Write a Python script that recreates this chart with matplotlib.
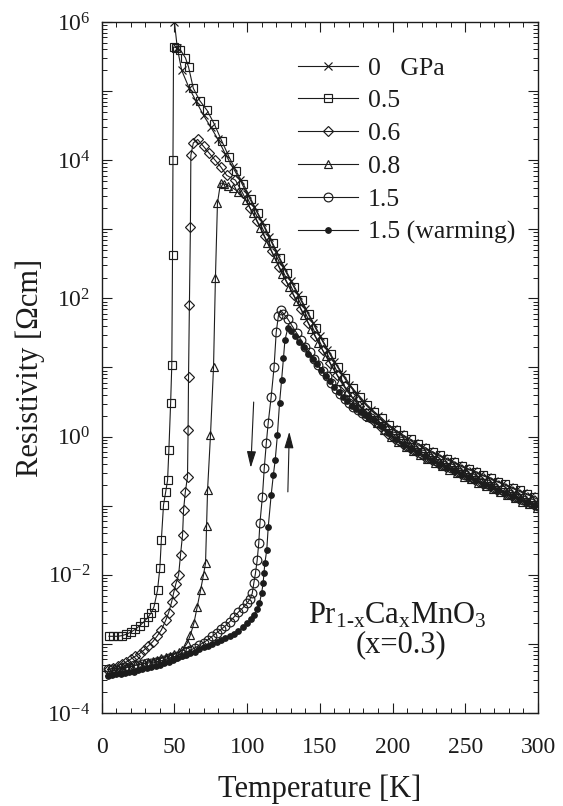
import numpy as np
import matplotlib
matplotlib.use("Agg")
import matplotlib.pyplot as plt
from matplotlib.ticker import LogLocator, MultipleLocator, FuncFormatter, NullFormatter

plt.rcParams['font.family'] = ['Liberation Serif', 'DejaVu Serif']
plt.rcParams['mathtext.fontset'] = 'custom'
plt.rcParams['mathtext.rm'] = 'Liberation Serif'
plt.rcParams['mathtext.it'] = 'Liberation Serif:italic'
plt.rcParams['mathtext.bf'] = 'Liberation Serif:bold'

ink = '#1c1c1c'

# resistivity curves, log10(rho / Ohm cm) vs temperature in K
t_00 = [48.8, 50, 52, 55, 60, 65, 70, 75, 80, 85, 90, 95, 100, 105, 110, 115, 120,
        125, 130, 135, 140, 145, 150, 155, 160, 165, 170, 175, 180, 185, 190, 195,
        200, 205, 210, 215, 220, 225, 230, 235, 240, 245, 250, 255, 260, 265, 270,
        275, 280, 285, 290, 295, 300]
lr_00 = [6.5, 6.0, 5.62, 5.30, 5.05, 4.85, 4.65, 4.48, 4.30, 4.09, 3.90, 3.72, 3.51,
         3.32, 3.11, 2.89, 2.67, 2.45, 2.25, 2.05, 1.85, 1.65, 1.45, 1.26, 1.08, 0.91,
         0.75, 0.62, 0.50, 0.39, 0.30, 0.20, 0.11, 0.04, -0.03, -0.09, -0.15, -0.21,
         -0.26, -0.31, -0.36, -0.41, -0.46, -0.50, -0.55, -0.59, -0.64, -0.68, -0.73,
         -0.77, -0.82, -0.86, -0.91]

t_05 = [5, 8, 11, 14, 17, 20, 23, 26, 29, 32, 34, 36, 38.4, 40, 41, 42.5, 44, 45.3,
        46.2, 47.4, 48.2, 48.7, 49.0, 49.4, 51, 54, 57.6, 59.7, 63, 67.5, 72.5, 77.5,
        82.5, 87.5, 92.5, 97.5, 102.5, 107.5, 112.5, 117.5, 122.5, 127.5, 132.5,
        137.5, 142.5, 147.5, 152.5, 157.5, 162.5, 167.5, 172.5, 177.5, 182.5, 187.5,
        192.5, 197.5, 202.5, 207.5, 212.5, 217.5, 222.5, 227.5, 232.5, 237.5, 242.5,
        247.5, 252.5, 257.5, 262.5, 267.5, 272.5, 277.5, 282.5, 287.5, 292.5, 297.5]
lr_05 = [-2.89, -2.89, -2.89, -2.88, -2.86, -2.83, -2.79, -2.74, -2.68, -2.61, -2.55,
         -2.46, -2.22, -1.9, -1.5, -0.99, -0.80, -0.63, -0.19, 0.49, 1.04, 2.63, 4.0,
         5.64, 5.63, 5.60, 5.48, 5.35, 5.04, 4.86, 4.72, 4.52, 4.28, 4.05, 3.84, 3.65,
         3.44, 3.23, 3.02, 2.80, 2.58, 2.37, 2.17, 1.97, 1.77, 1.57, 1.37, 1.19, 1.01,
         0.85, 0.70, 0.58, 0.46, 0.36, 0.27, 0.17, 0.09, 0.02, -0.04, -0.10, -0.16,
         -0.22, -0.27, -0.32, -0.37, -0.42, -0.47, -0.51, -0.56, -0.60, -0.65, -0.69,
         -0.74, -0.78, -0.83, -0.87]

t_06 = [5, 8, 11, 14, 17, 20, 23, 26, 29, 32, 35, 38, 41, 44, 46, 48, 49.5, 51, 52.9,
        54.2, 55.6, 56.3, 57.5, 59.0, 59.4, 59.7, 60.3, 61.0, 61.3, 63, 66, 70, 74, 78,
        82, 86, 92, 97, 102, 107, 112, 117, 122, 127, 132, 137, 142, 147, 152, 157,
        162, 167, 172, 177, 182, 187, 192, 197, 202, 207, 212, 217, 222, 227, 232, 237,
        242, 247, 252, 257, 262, 267, 272, 277, 282, 287, 292, 297]
lr_06 = [-3.37, -3.35, -3.32, -3.29, -3.26, -3.22, -3.18, -3.14, -3.09, -3.03, -2.97,
         -2.89, -2.80, -2.66, -2.55, -2.40, -2.26, -2.13, -2.00, -1.71, -1.42, -1.06,
         -0.80, -0.58, 0.10, 0.86, 1.90, 3.03, 4.07, 4.25, 4.30, 4.20, 4.10, 4.00, 3.90,
         3.78, 3.71, 3.52, 3.31, 3.12, 2.90, 2.68, 2.46, 2.25, 2.05, 1.85, 1.65, 1.45,
         1.25, 1.07, 0.89, 0.73, 0.58, 0.45, 0.34, 0.23, 0.14, 0.04, -0.04, -0.11,
         -0.17, -0.23, -0.29, -0.34, -0.39, -0.44, -0.49, -0.54, -0.59, -0.63, -0.68,
         -0.72, -0.77, -0.81, -0.86, -0.90, -0.95, -0.99]

t_08 = [5, 8, 11, 14, 17, 20, 23, 26, 29, 32, 35, 38, 41, 44, 47, 50, 53, 55.4, 58.8,
        61, 63.4, 65.7, 68, 70, 71.4, 72.1, 72.8, 74.8, 76.9, 78.2, 79.6, 81.7, 84, 87,
        90, 94, 99, 104, 109, 114, 119, 124, 129, 134, 139, 144, 149, 154, 159, 164,
        169, 174, 179, 184, 189, 194, 199, 204, 209, 214, 219, 224, 229, 234, 239, 244,
        249, 254, 259, 264, 269, 274, 279, 284, 289, 294, 299]
lr_08 = [-3.40, -3.39, -3.37, -3.36, -3.34, -3.33, -3.31, -3.30, -3.28, -3.26, -3.25,
         -3.23, -3.21, -3.19, -3.17, -3.15, -3.12, -3.09, -2.99, -2.87, -2.70, -2.46,
         -2.22, -2.00, -1.83, -1.30, -0.77, 0.02, 1.01, 2.30, 3.38, 3.67, 3.66, 3.63,
         3.60, 3.54, 3.42, 3.23, 3.02, 2.80, 2.58, 2.36, 2.16, 1.96, 1.76, 1.56, 1.36,
         1.17, 0.99, 0.81, 0.65, 0.52, 0.39, 0.28, 0.19, 0.09, 0.00, -0.08, -0.15, -0.21,
         -0.27, -0.33, -0.38, -0.43, -0.48, -0.53, -0.58, -0.62, -0.67, -0.71, -0.76,
         -0.80, -0.85, -0.89, -0.94, -0.98, -1.03]

t_15 = [4, 7, 10, 13, 16, 19, 22, 25, 28, 31, 34, 37, 40, 43, 46, 49, 52, 55, 58, 61,
        64, 67, 70, 73, 76, 79, 82, 85, 88, 91, 94, 97, 100, 102, 103.5, 104.6, 105.7,
        106.9, 108, 108.8, 110.5, 111.8, 113.2, 114.5, 116.5, 118.5, 120, 121.5, 123,
        125, 128, 131, 134, 137, 140, 143, 146, 149, 152, 155, 158, 161, 164, 167, 170,
        173, 176, 179, 182, 185, 190, 195, 200, 205, 210, 215, 220, 225, 230, 235, 240,
        245, 250, 255, 260, 265, 270, 275, 280, 285, 290, 295, 300]
lr_15 = [-3.37, -3.36, -3.36, -3.35, -3.34, -3.33, -3.31, -3.30, -3.29, -3.28, -3.27,
         -3.26, -3.25, -3.23, -3.21, -3.19, -3.17, -3.14, -3.12, -3.09, -3.06, -3.02,
         -2.98, -2.94, -2.89, -2.84, -2.79, -2.74, -2.68, -2.61, -2.54, -2.48, -2.41,
         -2.35, -2.27, -2.12, -1.98, -1.79, -1.54, -1.25, -0.87, -0.45, -0.09, 0.20,
         0.57, 1.00, 1.51, 1.75, 1.83, 1.78, 1.70, 1.60, 1.50, 1.40, 1.30, 1.22, 1.12,
         1.03, 0.95, 0.87, 0.78, 0.69, 0.62, 0.55, 0.49, 0.43, 0.38, 0.34, 0.30, 0.27,
         0.20, 0.10, 0.01, -0.06, -0.13, -0.19, -0.25, -0.31, -0.36, -0.41, -0.46,
         -0.51, -0.56, -0.60, -0.65, -0.69, -0.74, -0.78, -0.83, -0.87, -0.92, -0.96,
         -1.01]

t_15w = [4, 7, 10, 13, 16, 19, 22, 25, 28, 31, 34, 37, 40, 43, 46, 49, 52, 55, 58, 61,
         64, 67, 70, 73, 76, 79, 82, 85, 88, 91, 94, 97, 100, 103, 105, 107, 108.5,
         110, 111, 111.6, 112.2, 113.5, 114.5, 116.5, 118, 119.3, 120.8, 122.3, 123.7,
         125, 126, 128, 130, 133, 136, 139, 142, 145, 148, 151, 154, 157, 160, 163,
         166, 169, 172, 175, 178, 181, 184, 187, 192, 197, 202, 207, 212, 217, 222,
         227, 232, 237, 242, 247, 252, 257, 262, 267, 272, 277, 282, 287, 292, 297]
lr_15w = [-3.46, -3.45, -3.44, -3.43, -3.42, -3.41, -3.40, -3.38, -3.37, -3.35, -3.34,
          -3.32, -3.30, -3.28, -3.26, -3.23, -3.21, -3.18, -3.16, -3.13, -3.11, -3.08,
          -3.05, -3.03, -3.00, -2.97, -2.95, -2.92, -2.88, -2.85, -2.81, -2.76, -2.70,
          -2.64, -2.58, -2.50, -2.41, -2.26, -2.12, -1.97, -1.83, -1.64, -1.31, -0.85,
          -0.56, -0.34, 0.02, 0.49, 0.82, 1.14, 1.40, 1.57, 1.53, 1.45, 1.37, 1.29,
          1.20, 1.12, 1.05, 0.96, 0.88, 0.80, 0.72, 0.64, 0.57, 0.51, 0.45, 0.40, 0.35,
          0.31, 0.28, 0.24, 0.15, 0.05, -0.03, -0.10, -0.16, -0.22, -0.28, -0.34, -0.39,
          -0.44, -0.49, -0.54, -0.59, -0.63, -0.68, -0.72, -0.77, -0.81, -0.86, -0.90,
          -0.95, -0.99]

labels = ['0   GPa', '0.5', '0.6', '0.8', '1.5', '1.5 (warming)']

fig = plt.figure(figsize=(5.63, 8.06), dpi=100)
ax = fig.add_axes([101.7 / 563, 1 - 713 / 806, (538 - 101.7) / 563, (713 - 22) / 806])

series = [
    (t_00, lr_00, 'x', 5.5, 'none'),
    (t_05, lr_05, 's', 5.8, 'none'),
    (t_06, lr_06, 'D', 4.8, 'none'),
    (t_08, lr_08, '^', 6.4, 'none'),
    (t_15, lr_15, 'o', 6.3, 'none'),
    (t_15w, lr_15w, 'o', 4.0, ink),
]
for (t, lr, mk, ms, face), lab in zip(series, labels):
    ax.plot(t, 10 ** np.array(lr), color=ink, lw=0.8, marker=mk, ms=ms,
            mfc=face, mec=ink, mew=0.85, label=lab)

ax.set_xlim(0, 300)
ax.set_yscale('log')
ax.set_ylim(1e-4, 1e6)

ax.xaxis.set_major_locator(MultipleLocator(50))
ax.xaxis.set_minor_locator(MultipleLocator(10))
ax.yaxis.set_major_locator(LogLocator(base=10, numticks=20))
ax.yaxis.set_minor_locator(LogLocator(base=10, subs=np.arange(2, 10), numticks=20))


def even_decades(v, pos):
    e = int(round(np.log10(v)))
    return r'$10^{%d}$' % e if e % 2 == 0 else ''


ax.yaxis.set_major_formatter(FuncFormatter(even_decades))
ax.yaxis.set_minor_formatter(NullFormatter())

ax.tick_params(which='both', direction='in', top=True, right=True, color=ink,
               labelcolor=ink)
ax.tick_params(which='major', length=7, width=0.8, labelsize=17)
ax.tick_params(which='minor', length=3.5, width=0.7)
ax.tick_params(axis='x', which='major', pad=17)
ax.tick_params(axis='y', which='major', pad=8)
for sp in ax.spines.values():
    sp.set_linewidth(1.0)
    sp.set_color(ink)

ax.set_xlabel('Temperature [K]', fontsize=22, color=ink, labelpad=12)
ax.set_ylabel('Resistivity [Ωcm]', fontsize=22, color=ink, labelpad=2)

ax.legend(loc='upper left', bbox_to_anchor=(0.451, 0.950), frameon=False,
          fontsize=18.5, handlelength=2.33, handletextpad=0.36, labelspacing=0.385,
          borderpad=0, borderaxespad=0, labelcolor=ink)

ax.text(203.5, 10 ** -2.71, r'Pr$_{\text{1-x}}$Ca$_{\text{x}}$MnO$_{\text{3}}$',
        fontsize=22, ha='center', va='baseline', color=ink)
ax.text(206, 10 ** -3.12, '(x=0.3)', fontsize=22, ha='center', va='baseline',
        color=ink)

# cooling / warming direction arrows
arrow = dict(arrowstyle='-|>,head_length=1.0,head_width=0.28', lw=0.8, color=ink,
             shrinkA=0, shrinkB=0)
ax.annotate('', xy=(102.5, 10 ** -0.45), xytext=(104.5, 10 ** 0.5), arrowprops=arrow)
ax.annotate('', xy=(129, 10 ** 0.07), xytext=(128, 10 ** -0.8), arrowprops=arrow)

fig.savefig('out.png', dpi=100)
